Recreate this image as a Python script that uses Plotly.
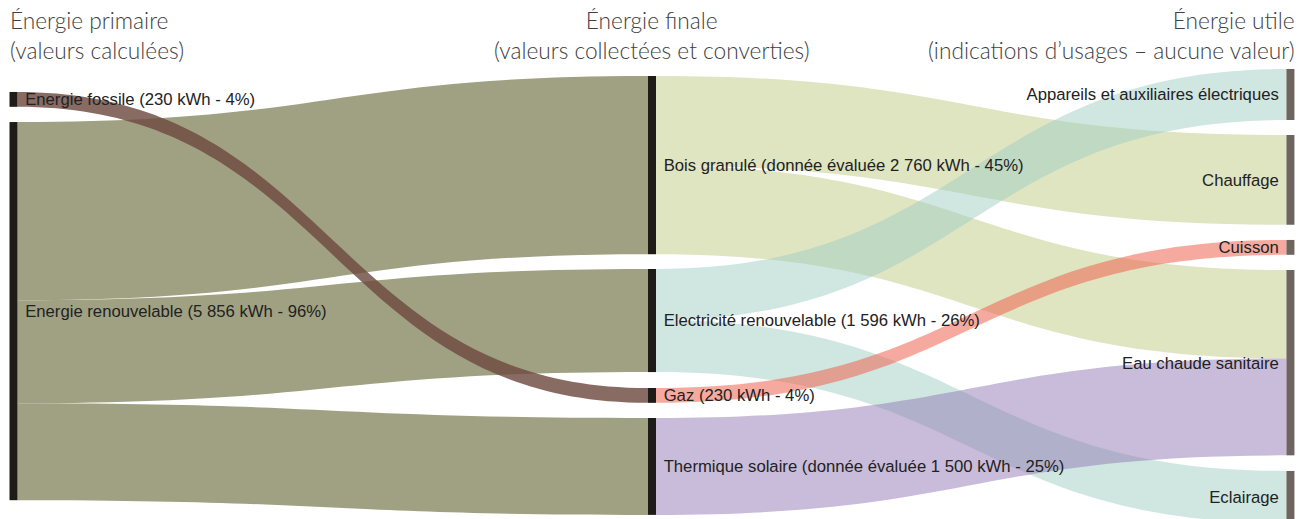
import plotly.graph_objects as go

# ---- data ----
node_labels = [
    "Energie fossile (230 kWh - 4%)",
    "Energie renouvelable (5 856 kWh - 96%)",
    "Bois granulé (donnée évaluée 2 760 kWh - 45%)",
    "Electricité renouvelable (1 596 kWh - 26%)",
    "Gaz (230 kWh - 4%)",
    "Thermique solaire (donnée évaluée 1 500 kWh - 25%)",
    "Appareils et auxiliaires électriques",
    "Chauffage",
    "Cuisson",
    "Eau chaude sanitaire",
    "Eclairage",
]
link_sources = [1, 1, 1, 0, 2, 2, 3, 3, 4, 5]
link_targets = [2, 3, 5, 4, 7, 9, 6, 10, 8, 9]
link_values = [2760, 1596, 1500, 230, 1390, 1370, 790, 806, 230, 1500]

column_titles = [
    "Énergie primaire<br>(valeurs calculées)",
    "Énergie finale<br>(valeurs collectées et converties)",
    "Énergie utile<br>(indications d’usages – aucune valeur)",
]

# ---- styling / layout ----
# page body has an 8px margin, so the figure is 8px smaller than the window
W, H = 1295, 511
top = 58  # top of the sankey domain (px)

node_x = [0.00425, 0.00425, 0.4973, 0.4973, 0.4973, 0.4973, 0.9903, 0.9903, 0.9903, 0.9903, 0.9903]
node_y = [0.0737, 0.5411, 0.2188, 0.5619, 0.7272, 0.8840, 0.0629, 0.2514, 0.4004, 0.6549, 0.9514]
node_colors = ["#1e1b18"] * 6 + ["#6e6560"] * 5

# small visual gap between node bars and their labels
display_labels = ["\u00a0" + s for s in node_labels[:6]] + [s + "\u00a0" for s in node_labels[6:]]

olive = "rgb(160,161,130)"
bois = "rgba(192,202,132,0.5)"
elec = "rgba(160,205,195,0.5)"
therm = "rgba(148,122,182,0.5)"
gaz = "rgba(238,100,80,0.55)"
foss = "rgba(110,75,65,0.82)"
link_colors = [olive, olive, olive, foss, bois, bois, elec, elec, gaz, therm]

fig = go.Figure(go.Sankey(
    arrangement="fixed",
    domain=dict(x=[0, 1], y=[0, (H - top) / H]),
    node=dict(
        label=display_labels,
        x=node_x,
        y=node_y,
        pad=15,
        thickness=8,
        color=node_colors,
        line=dict(width=0),
    ),
    link=dict(
        source=link_sources,
        target=link_targets,
        value=link_values,
        color=link_colors,
    ),
    textfont=dict(family="Liberation Sans, Arial, sans-serif", size=16.7,
                  color="#222222", shadow="none"),
    hoverinfo="none",
))

title_font = dict(family="Lato, sans-serif", size=22.7, color="#404040", weight=300)
ty = 1 + 3 / H
fig.add_annotation(text=column_titles[0], x=0, y=ty, xref="paper", yref="paper",
                   xanchor="left", yanchor="top", align="left", showarrow=False, font=title_font)
fig.add_annotation(text=column_titles[1], x=644 / W, y=ty, xref="paper", yref="paper",
                   xanchor="center", yanchor="top", align="center", showarrow=False, font=title_font)
fig.add_annotation(text=column_titles[2], x=1289 / W, y=ty, xref="paper", yref="paper",
                   xanchor="right", yanchor="top", align="right", showarrow=False, font=title_font)

fig.update_layout(
    width=W, height=H,
    margin=dict(l=0, r=0, t=0, b=0),
    paper_bgcolor="white",
    plot_bgcolor="white",
)

fig.write_html("out.html")
